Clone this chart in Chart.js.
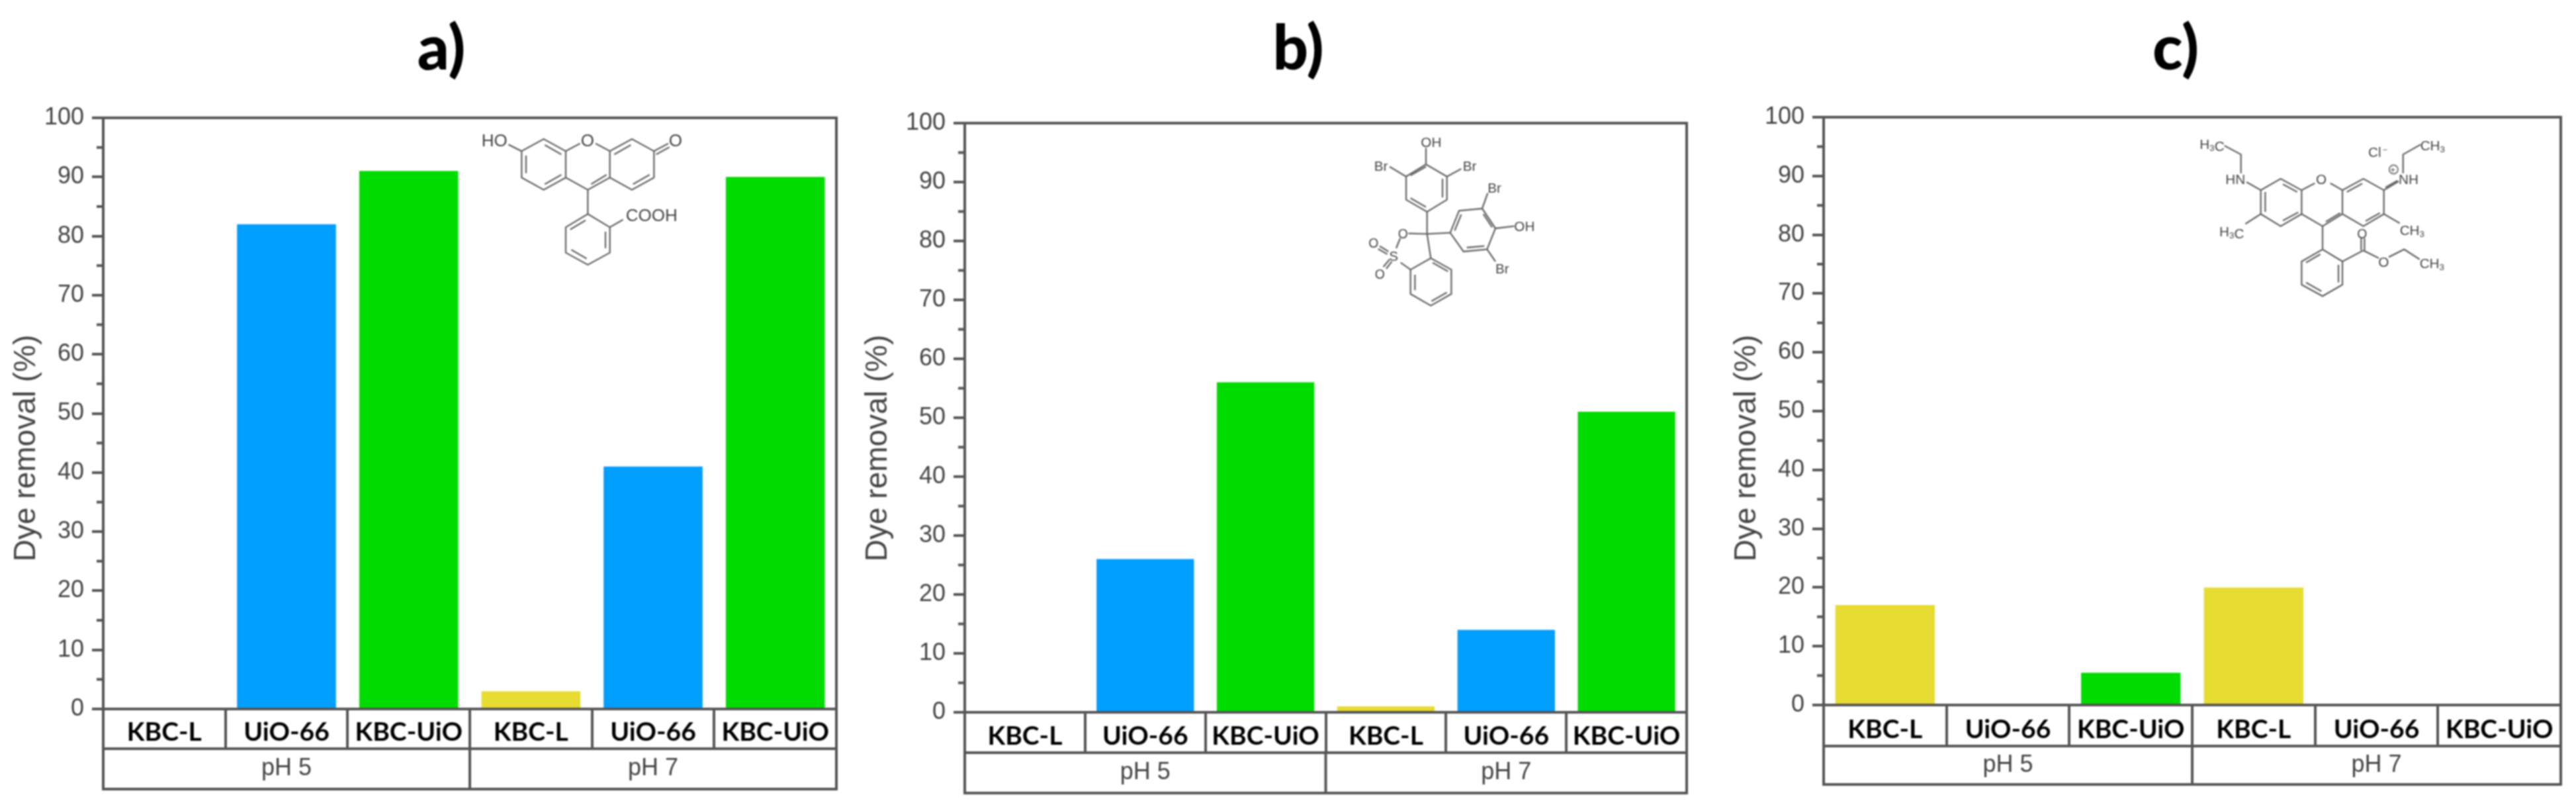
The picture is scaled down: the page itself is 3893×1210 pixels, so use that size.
<!DOCTYPE html>
<html>
<head>
<meta charset="utf-8">
<title>Dye removal</title>
<script src="https://cdn.jsdelivr.net/npm/chart.js@4"></script>
<style>
html,body{margin:0;padding:0;background:#fff;overflow:hidden}
#page{position:relative;width:3893px;height:1210px;filter:blur(0.8px)}
canvas{position:absolute;top:0}
svg{position:absolute}
svg text{font-family:"Liberation Sans",Arial,sans-serif;fill:#444}
</style>
</head>
<body>
<div id="page"></div>
<script>
// values
const categories = ['KBC-L','UiO-66','KBC-UiO','KBC-L','UiO-66','KBC-UiO'];
const groups = ['pH 5','pH 7'];
const valuesA = [0,82,91,3,41,90];
const valuesB = [0,26,56,1,14,51];
const valuesC = [17,0,5.5,20,0,0];
const barColors = ['#E6DC32','#009EFF','#00DC00','#E6DC32','#009EFF','#00DC00'];
const yMajor = 10;
const yMinorTicks = [5,15,25,35,45,55,65,75,85,95];
const yLabel = 'Dye removal (%)';

const LINE = '#555';
const TEXT = '#444';

// plot box of each panel in page pixels
const panels = [
  {name:'a)', values:valuesA, canvasLeft:0,    canvasRight:1290, left:156,  right:1264, top:178, zero:1071, tier:1131, bottom:1192, titleX:667,  labelX:40,   labelY:677},
  {name:'b)', values:valuesB, canvasLeft:1290, canvasRight:2590, left:1458, right:2549, top:186, zero:1076, tier:1137, bottom:1198, titleX:1962, labelX:1327, labelY:677},
  {name:'c)', values:valuesC, canvasLeft:2590, canvasRight:3893, left:2756, right:3870, top:177, zero:1065, tier:1127, bottom:1185, titleX:3288, labelX:2640, labelY:677}
];

// structures, drawn in the zoom-crop units of each box (3 units = 1 page px)
const moleculeA = {x:680, y:150, w:420, h:300,
  bonds:[
    [325,235,425,180,525,235,525,355,425,410,325,355,325,235],[345,255,345,335],[430,207,505,250],[430,385,505,342],
    [525,235,590,200],[660,200,725,235],[725,235,725,355],[525,355,625,410,725,355],[640,385,710,342],
    [725,235,825,180,925,235,925,355,825,410,725,355],[745,250,820,207],[830,385,905,342],
    [925,235,990,200],[935,250,995,217],[265,205,325,235],
    [625,410,625,520],[625,520,725,580,725,695,625,750,525,695,525,580,625,520],[545,590,615,548],[705,600,705,675],[550,682,620,722],
    [725,580,785,545]
  ],
  labels:[['HO',143,212,78],['O',593,212,78],['O',992,212,78],['COOH',797,553,78]]
};
const moleculeB = {x:1960, y:170, w:420, h:300,
  bonds:[
    [585,235,680,290,680,395,590,450,495,395,495,290,585,235],[515,285,585,245],[660,300,660,385],[515,388,585,428],
    [585,235,585,160],[420,245,495,290],[680,290,745,255],
    [590,450,590,550],[505,548,590,550],[590,550,607,660],[590,550,695,545],
    [695,545,735,445,840,435,900,525,862,620,755,630,695,545],[715,535,745,462],[845,460,885,520],[770,612,850,605],
    [900,525,985,515],[840,435,865,365],[862,620,900,675],
    [607,660,700,712,700,822,607,875,515,822,515,712,607,660],[615,680,685,720],[680,815,610,855],[535,735,535,805],
    [470,680,515,712],[450,615,468,570],[375,605,415,630],[368,618,410,642],[392,700,420,665],[405,708,430,675]
  ],
  labels:[['OH',562,155,62],['Br',350,263,62],['Br',752,263,62],['Br',865,362,62],['OH',985,537,62],['Br',900,730,62],['O',458,570,58],['O',325,613,58],['S',418,672,62],['O',353,753,58]]
};
const moleculeC = {x:3280, y:150, w:450, h:300,
  bonds:[
    [410,412,500,360,595,412,595,520,500,575,410,520,410,412],[430,420,430,510],[510,385,575,420],[510,550,580,512],
    [595,412,655,380],[725,380,780,412],[780,412,780,520],[595,520,690,575,780,520],[705,555,770,515],
    [780,412,875,360,968,412,968,520,875,575,780,520],[800,420,870,382],[885,552,950,515],
    [968,412,1035,372],[975,400,1030,368],[1055,335,1055,250,1135,205],
    [345,375,410,412],[320,335,320,250,245,210],[410,520,340,565],[968,520,1040,562],
    [690,575,690,680],[690,680,780,735,780,840,690,892,595,840,595,735,690,680],[615,740,680,702],[762,750,762,830],[615,830,685,870],
    [780,735,875,685],[865,685,865,630],[880,685,880,630],[875,685,945,720],[990,715,1060,680,1130,725]
  ],
  labels:[['H3C',133,225,62],['HN',250,383,62],['H3C',222,620,62],['O',660,385,62],['Cl',897,262,62],['\u2212',962,240,36],['NH',1035,383,62],['CH3',1133,230,62],['CH3',1040,615,62],['O',847,630,58],['O',943,760,62],['CH3',1130,765,62],['\u002B',997,333,40]],
  rings:[[1012,318,20]]
};
const molecules = [moleculeA, moleculeB, moleculeC];

const $ = (id) => document.getElementById(id);

function drawMolecule(m){
  const bonds = m.bonds.map(b => {
    const pts = [];
    for(let i=0;i<b.length;i+=2) pts.push(b[i]+','+b[i+1]);
    return `<polyline points="${pts.join(' ')}" fill="none" stroke="#666" stroke-width="7"/>`;
  }).join('');
  const rings = (m.rings || []).map(r => `<circle cx="${r[0]}" cy="${r[1]}" r="${r[2]}" fill="none" stroke="#666" stroke-width="5"/>`).join('');
  const labels = m.labels.map(l => {
    const txt = l[0].replace(/3/g, `<tspan dy="10" font-size="${l[3]*0.65}">3</tspan><tspan dy="-10"></tspan>`);
    return `<text x="${l[1]}" y="${l[2]}" font-size="${l[3]}">${txt}</text>`;
  }).join('');
  $('page').insertAdjacentHTML('beforeend',
    `<svg style="left:${m.x}px;top:${m.y}px" width="${m.w}" height="${m.h}" viewBox="0 0 ${m.w*3} ${m.h*3}">${bonds}${rings}${labels}</svg>`);
}

// frame, second label row, minor ticks, panel letter and y label
const panelDecor = {
  id:'panelDecor',
  afterDraw(chart, args, opts){
    const p = opts.panel, ctx = chart.ctx, off = p.canvasLeft;
    const x = chart.scales.x, y = chart.scales.y;
    const left = x.left, right = x.right;
    ctx.save();
    ctx.strokeStyle = LINE;
    ctx.lineWidth = 4;
    ctx.strokeRect(left, p.top, right-left, p.bottom-p.top);
    ctx.beginPath();
    ctx.moveTo(left, p.tier); ctx.lineTo(right, p.tier);
    const mid = (left+right)/2;
    ctx.moveTo(mid, p.tier); ctx.lineTo(mid, p.bottom);
    yMinorTicks.forEach(v => {
      const py = y.getPixelForValue(v);
      ctx.moveTo(left-10, py); ctx.lineTo(left, py);
    });
    ctx.stroke();

    ctx.fillStyle = TEXT;
    ctx.textAlign = 'center';
    ctx.textBaseline = 'middle';
    ctx.font = '36px "Liberation Sans"';
    groups.forEach((g,i) => {
      ctx.fillText(g, left+(right-left)*(i*2+1)/4, (p.tier+p.bottom)/2);
    });

    ctx.save();
    ctx.translate(p.labelX-off, p.labelY);
    ctx.rotate(-Math.PI/2);
    ctx.font = '46px "Liberation Sans"';
    ctx.fillText(yLabel, 0, 0);
    ctx.restore();

    ctx.fillStyle = '#000';
    ctx.font = '900 94px Lato';
    ctx.fillText(p.name, p.titleX-off, 75);
    ctx.restore();
  }
};

function makeChart(p){
  const canvas = document.createElement('canvas');
  const width = p.canvasRight-p.canvasLeft;
  canvas.width = width;
  canvas.height = 1210;
  canvas.style.left = p.canvasLeft+'px';
  $('page').appendChild(canvas);
  return new Chart(canvas, {
    type:'bar',
    data:{labels:categories, datasets:[{data:p.values, backgroundColor:barColors, borderWidth:0, barPercentage:0.81, categoryPercentage:1}]},
    plugins:[panelDecor],
    options:{
      responsive:false,
      animation:false,
      layout:{padding:{top:p.top, right:p.canvasRight-p.right, bottom:0, left:0}},
      plugins:{legend:{display:false}, tooltip:{enabled:false}, panelDecor:{panel:p}},
      scales:{
        x:{
          afterFit(scale){ scale.height = 1210-p.zero; },
          border:{color:LINE, width:4},
          grid:{offset:true, drawOnChartArea:false, tickLength:p.tier-p.zero, color:LINE, lineWidth:4},
          ticks:{autoSkip:false, maxRotation:0, padding:-48, color:'#000', font:{family:'Lato', weight:'bold', size:39}}
        },
        y:{
          min:0, max:100,
          afterFit(scale){ scale.width = p.left-p.canvasLeft; },
          border:{color:LINE, width:4},
          grid:{drawOnChartArea:false, tickLength:17, color:LINE, lineWidth:4},
          ticks:{stepSize:yMajor, padding:12, color:TEXT, font:{family:'Liberation Sans', size:36}}
        }
      }
    }
  });
}

panels.forEach(makeChart);
molecules.forEach(drawMolecule);
</script>
</body>
</html>
